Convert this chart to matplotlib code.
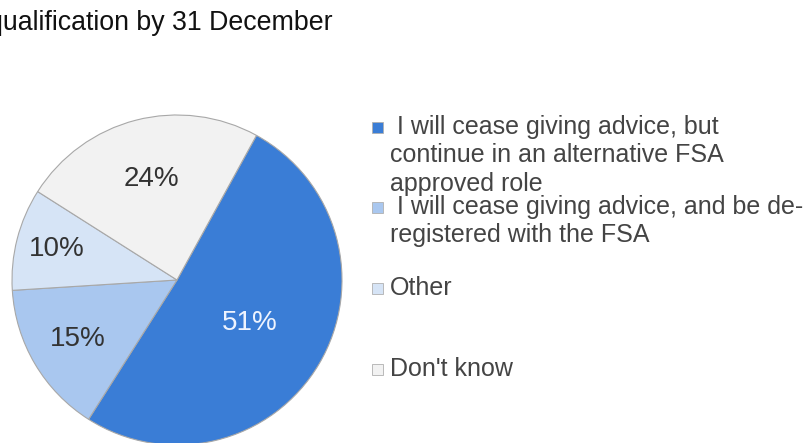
import matplotlib.pyplot as plt
import numpy as np

plt.rcParams['font.family'] = ['Liberation Sans', 'DejaVu Sans']

title = 'qualification by 31 December'
labels = ['I will cease giving advice, but continue in an alternative FSA approved role',
          'I will cease giving advice, and be de-registered with the FSA',
          'Other',
          "Don't know"]
# wrapped the way the legend shows them
legend_lines = [' I will cease giving advice, but\ncontinue in an alternative FSA\napproved role',
                ' I will cease giving advice, and be de-\nregistered with the FSA',
                'Other',
                "Don't know"]
values = [51, 15, 10, 24]
colors = ['#3a7dd6', '#a9c7ef', '#d6e4f6', '#f2f2f2']
text_colors = ['#eef4ff', '#333333', '#333333', '#333333']
label_dist = [0.51, 0.70, 0.75, 0.63]

W, H = 807, 443
fig = plt.figure(figsize=(W / 100, H / 100), dpi=100)

# pie axes: centre at (177, 280) px from top-left, radius 165 px
r = 165
cx, cy = 177, 280
ax = fig.add_axes([(cx - r) / W, (H - cy - r) / H, 2 * r / W, 2 * r / H])
wedges, texts, autotexts = ax.pie(values, colors=colors, startangle=61.2, counterclock=False,
                                  autopct='%d%%', radius=1,
                                  wedgeprops=dict(edgecolor='#a8a8a8', linewidth=0.8),
                                  textprops=dict(fontsize=20))
for w, t, d, c in zip(wedges, autotexts, label_dist, text_colors):
    ang = np.deg2rad((w.theta1 + w.theta2) / 2)
    t.set_position((d * np.cos(ang), d * np.sin(ang)))
    t.set_color(c)
ax.set_xlim(-1, 1)
ax.set_ylim(-1, 1)
ax.axis('off')

# the title runs off the left edge, as in the source image
fig.text(333 / W, 1 - 23 / H, title, ha='right', va='center', fontsize=19.3, color='#111111')

# legend drawn by hand
rows_y = [128, 208, 289, 370]
for y, txt, c in zip(rows_y, legend_lines, colors):
    fig.patches.append(plt.Rectangle((372 / W, 1 - (y + 5) / H), 11 / W, 11 / H,
                                     transform=fig.transFigure, facecolor=c,
                                     edgecolor='#b0b0b0', linewidth=0.6))
    fig.text(390 / W, 1 - (y - 13) / H, txt, ha='left', va='top', fontsize=18,
             color='#444444', linespacing=1.23)

fig.savefig('out.png', dpi=100)
